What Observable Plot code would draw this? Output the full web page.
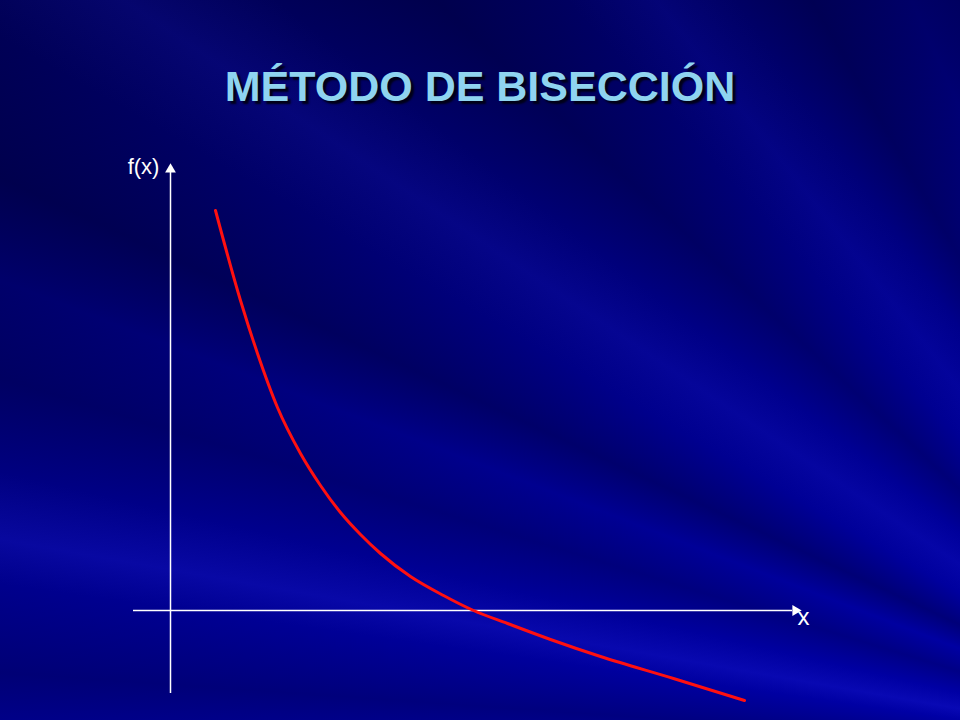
<!DOCTYPE html>
<html>
<head>
<meta charset="utf-8">
<script src="https://cdn.jsdelivr.net/npm/d3@7"></script>
<script src="https://cdn.jsdelivr.net/npm/@observablehq/plot@0.6"></script>
<style>
  html, body { margin: 0; padding: 0; }
  #frame {
    position: relative; width: 960px; height: 720px; overflow: hidden;
    background:
      conic-gradient(from 270deg at 1250px 760px,
        rgba(0,0,0,0) 0deg, rgba(0,0,30,0.25) 4deg, rgba(0,0,0,0) 8deg,
        rgba(30,30,220,0.28) 10deg, rgba(0,0,0,0) 13deg,
        rgba(0,0,30,0.22) 17deg, rgba(0,0,0,0) 21deg,
        rgba(0,0,30,0.30) 25deg, rgba(0,0,0,0) 30deg,
        rgba(30,30,220,0.18) 34deg, rgba(0,0,0,0) 38deg,
        rgba(0,0,30,0.25) 43deg, rgba(0,0,0,0) 48deg,
        rgba(20,20,210,0.18) 52deg, rgba(0,0,0,0) 56deg,
        rgba(0,0,30,0.25) 60deg, rgba(0,0,0,0) 66deg,
        rgba(0,0,30,0.22) 72deg, rgba(0,0,0,0) 78deg,
        rgba(0,0,0,0) 360deg),
      linear-gradient(165deg, #000052 0%, #00006c 30%, #00008c 60%, #00009e 85%, #0000a6 100%);
  }
  #title {
    position: absolute; left: 0; top: 62px; width: 960px; text-align: center;
    font-family: "Liberation Sans", Arial, sans-serif; font-weight: bold;
    font-size: 43px; color: #8fd4f0; text-shadow: 3px 3px 2px #000018;
  }
  #chart { position: absolute; left: 0; top: 0; }
</style>
</head>
<body>
<div id="frame">
  <div id="title">MÉTODO DE BISECCIÓN</div>
  <div id="chart"></div>
</div>
<script>
// Curve points (x, f(x)) in arbitrary units
const curveX = [0.45, 0.70, 0.87, 1.07, 1.30, 1.50, 1.70, 1.90, 2.10, 2.40, 2.73, 3.03, 3.37, 3.80, 4.30, 5.03, 5.74];
const curveY = [4.00, 3.10, 2.57, 2.03, 1.57, 1.25, 0.98, 0.76, 0.57, 0.34, 0.15, 0.00, -0.13, -0.29, -0.46, -0.68, -0.90];

// Axis extents and labels
const xAxisRange = [-0.37, 6.22];
const yAxisRange = [-0.83, 4.38];
const axisLabels = ["f(x)", "x"];

const curve = curveX.map((x, i) => ({x, y: curveY[i]}));

const plot = Plot.plot({
  width: 960,
  height: 720,
  marginLeft: 170,
  marginRight: 190,
  marginTop: 210,
  marginBottom: 110,
  x: {domain: [0, 6], axis: null},
  y: {domain: [0, 4], axis: null},
  style: {background: "transparent", overflow: "visible"},
  marks: [
    Plot.ruleY([0], {x1: xAxisRange[0], x2: xAxisRange[1], stroke: "white", strokeWidth: 1.5}),
    Plot.ruleX([0], {y1: yAxisRange[0], y2: yAxisRange[1], stroke: "white", strokeWidth: 1.5}),
    Plot.dot([{x: 0, y: yAxisRange[1] + 0.03}], {x: "x", y: "y", symbol: "triangle", r: 4, fill: "white", stroke: "none"}),
    Plot.dot([{x: xAxisRange[1] + 0.03, y: 0}], {x: "x", y: "y", symbol: "triangle", r: 4, fill: "white", stroke: "none", rotate: 90}),
    Plot.line(curve, {x: "x", y: "y", stroke: "#ff1010", strokeWidth: 3, curve: "monotone-x"}),
    Plot.text([axisLabels[0]], {x: -0.27, y: 4.44, text: d => d, fill: "white", fontSize: 22, fontFamily: "Liberation Sans, Arial, sans-serif"}),
    Plot.text([axisLabels[1]], {x: 6.33, y: -0.07, text: d => d, fill: "white", fontSize: 24, fontFamily: "Liberation Sans, Arial, sans-serif"})
  ]
});
document.getElementById("chart").appendChild(plot);
</script>
</body>
</html>
